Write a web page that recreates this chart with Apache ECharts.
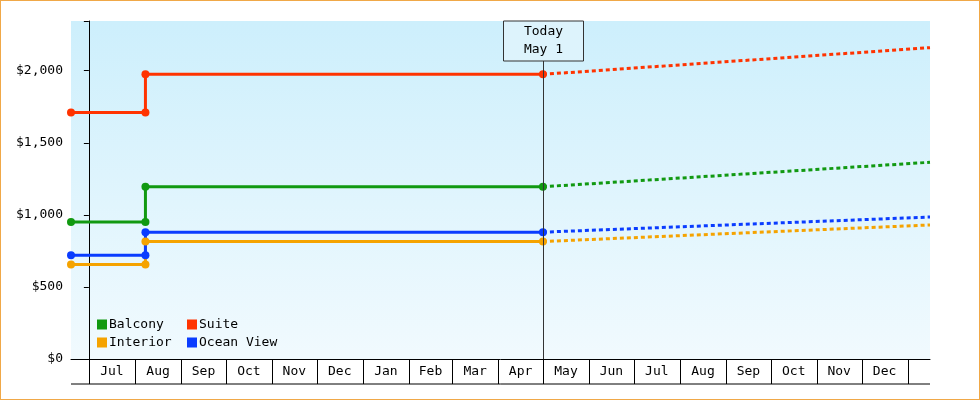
<!DOCTYPE html>
<html><head><meta charset="utf-8">
<script src="https://cdn.jsdelivr.net/npm/echarts@6/dist/echarts.min.js"></script>
<style>html,body{margin:0;padding:0;background:#fff}#c{width:980px;height:400px;box-sizing:border-box;border:1px solid #f0a848}</style>
</head><body><div id="c"></div>
<script>
// x values are days counted from Jul 1 (2023)
const monthStarts = [0,31,62,92,123,153,184,215,244,275,305,336,366,397,428,458,489,519,550];
const monthLabels = ['Jul','Aug','Sep','Oct','Nov','Dec','Jan','Feb','Mar','Apr','May','Jun','Jul','Aug','Sep','Oct','Nov','Dec'];
const xMin = -12, xMax = 565, todayX = 305;
const yTicks = [0,500,1000,1500,2000];
const balcony = [[-12,950],[38,950],[38,1195],[305,1195]];
const suite = [[-12,1710],[38,1710],[38,1975],[305,1975]];
const interior = [[-12,655],[38,655],[38,815],[305,815]];
const ocean = [[-12,720],[38,720],[38,880],[305,880]];
const balconyF = [[305,1195],[565,1365]];
const suiteF = [[305,1975],[565,2160]];
const interiorF = [[305,815],[565,930]];
const oceanF = [[305,880],[565,985]];
const colors = {Balcony:'#119911', Suite:'#ff3300', Interior:'#f5a300', 'Ocean View':'#0a3cff'};
const font = 'DejaVu Sans Mono';

function solid(name, data){return {name, type:'line', data, symbol:'circle', symbolSize:8,
  lineStyle:{width:3,color:colors[name]}, itemStyle:{color:colors[name]}, z:3};}
function dashed(name, data){return {name, type:'line', data, symbol:'none',
  lineStyle:{width:3,type:[4,3],color:colors[name]}, itemStyle:{color:colors[name]}, z:3};}

const axisSeries = {type:'custom', silent:true, clip:false, data:[0], z:5,
  renderItem(params, api){
    const ch = [];
    const y0 = api.coord([xMin,0])[1];
    const pL = api.coord([xMin,0])[0], pR = api.coord([xMax,0])[0];
    ch.push({type:'line', shape:{x1:pL,y1:y0+25,x2:pR,y2:y0+25}, style:{stroke:'#000',lineWidth:1}});
    monthStarts.forEach(d=>{const x=Math.round(api.coord([d,0])[0])+0.5;
      ch.push({type:'line', shape:{x1:x,y1:y0,x2:x,y2:y0+25}, style:{stroke:'#000',lineWidth:1}});});
    monthLabels.forEach((l,i)=>{const x=(api.coord([monthStarts[i],0])[0]+api.coord([monthStarts[i+1],0])[0])/2;
      ch.push({type:'text', x, y:y0+13, style:{text:l, fontFamily:font, fontSize:13, fill:'#000', align:'center', verticalAlign:'middle'}});});
    // Today marker
    const tx = Math.round(api.coord([todayX,0])[0])+0.5;
    const top = api.coord([todayX,2345])[1];
    ch.push({type:'line', shape:{x1:tx,y1:top,x2:tx,y2:y0}, style:{stroke:'#333',lineWidth:1}});
    ch.push({type:'rect', shape:{x:tx-40,y:top,width:80,height:40}, style:{fill:'#ddf3fc',stroke:'#333',lineWidth:1}});
    ch.push({type:'text', x:tx, y:top+20, style:{text:'Today\nMay 1', fontFamily:font, fontSize:13, lineHeight:18, fill:'#000', align:'center', verticalAlign:'middle'}});
    return {type:'group', children:ch};
  }};

const chart = echarts.init(document.getElementById('c'));
chart.setOption({
  animation:false,
  textStyle:{fontFamily:font},
  grid:{left:70,right:49,top:20,bottom:40,show:true,borderWidth:0,
    backgroundColor:new echarts.graphic.LinearGradient(0,0,0,1,[{offset:0,color:'#cdeffc'},{offset:1,color:'#f1fafe'}])},
  xAxis:{type:'value',min:xMin,max:xMax,axisLine:{show:true,lineStyle:{color:'#000'}},axisTick:{show:false},axisLabel:{show:false},splitLine:{show:false}},
  yAxis:{type:'value',min:0,max:2345,interval:500,
    axisLine:{show:true,lineStyle:{color:'#000'}},axisTick:{show:true,length:5,lineStyle:{color:'#000'}},
    splitLine:{show:false},
    axisLabel:{color:'#000',fontSize:13,fontFamily:font,
      customValues:yTicks,
      formatter:v=>'$'+v.toLocaleString('en-US')}},
  legend:[
    {data:['Balcony','Interior'],orient:'vertical',left:91,top:312,itemWidth:10,itemHeight:10,itemGap:5,icon:'rect',
     textStyle:{fontFamily:font,fontSize:13,color:'#000',padding:[0,0,0,-3]}},
    {data:['Suite','Ocean View'],orient:'vertical',left:181,top:312,itemWidth:10,itemHeight:10,itemGap:5,icon:'rect',
     textStyle:{fontFamily:font,fontSize:13,color:'#000',padding:[0,0,0,-3]}}
  ],
  series:[
    solid('Balcony',balcony), solid('Suite',suite), solid('Interior',interior), solid('Ocean View',ocean),
    dashed('Balcony',balconyF), dashed('Suite',suiteF), dashed('Interior',interiorF), dashed('Ocean View',oceanF),
    axisSeries
  ]
});
</script></body></html>
